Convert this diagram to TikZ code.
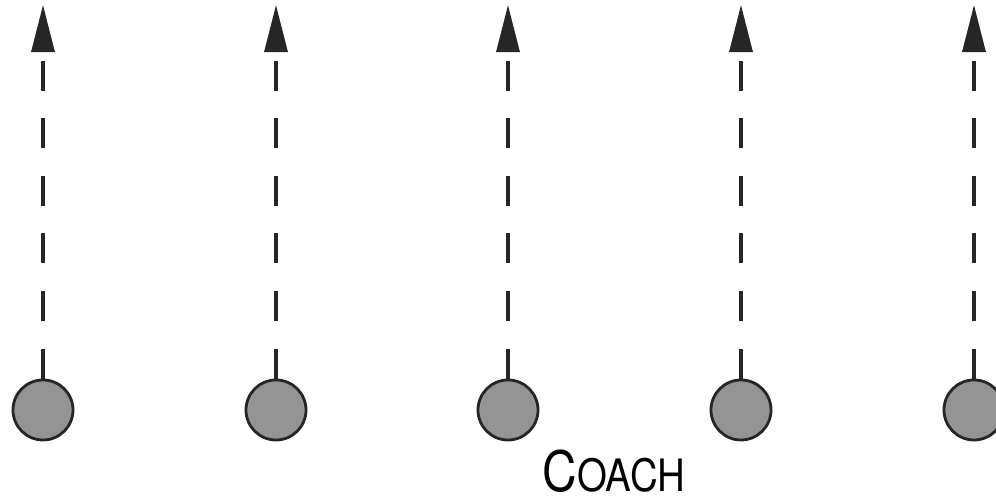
\documentclass[tikz,border=0pt]{standalone}
\usepackage{fontspec}
\setmainfont{TeX Gyre Heros}
\usetikzlibrary{arrows.meta}

\tikzset{
 player/.style={circle, draw=black!85, line width=0.8pt, fill=black!42, minimum size=0.6cm, inner sep=0pt},
 run/.style={black!85, line width=0.9pt, dash pattern=on 0.3cm off 0.275cm, -{Triangle[width=0.23cm,length=0.47cm]}},
}

\begin{document}
\begin{tikzpicture}[x=0.01cm,y=0.01cm]
\useasboundingbox (0,0) rectangle (996,501);
% players and their runs
\foreach \x [count=\i] in {43,276,508,741,974} {
 \node[player] (p\i) at (\x,91) {};
 \coordinate (t\i) at (\x,496);
 \draw[run] (p\i) -- (t\i);
}
\node[anchor=base west, inner sep=0pt] (coach) at (542,9) {\scalebox{0.86}[1]{\fontsize{15.85}{16}\selectfont C\fontsize{12.7}{13}\selectfont OACH}};
\end{tikzpicture}
\end{document}
